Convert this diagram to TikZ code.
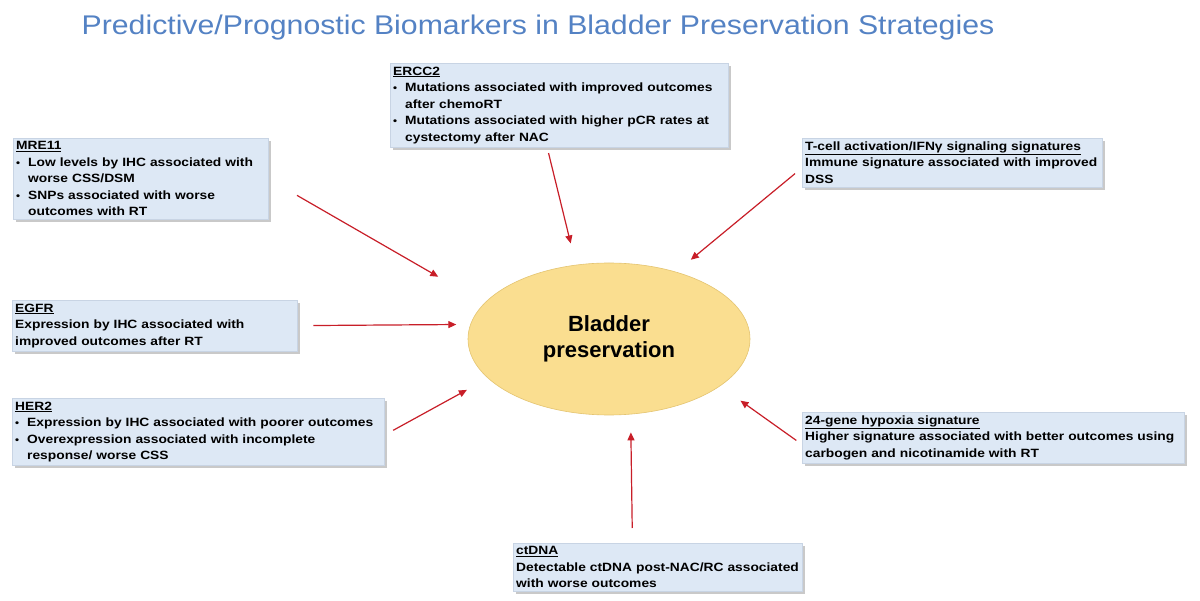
\documentclass[tikz,border=0pt]{standalone}
\usepackage{fontspec}
\setmainfont{Liberation Sans}
\newfontfamily\boxfont[FakeStretch=1.15]{Liberation Sans}
\newfontfamily\titlefont[FakeStretch=1.12]{Liberation Sans}
\usepackage{tikz}
\usetikzlibrary{arrows.meta}
\usetikzlibrary{shapes.geometric}
\usetikzlibrary{shadows}
\definecolor{titleblue}{RGB}{84,130,196}
\definecolor{boxfill}{RGB}{221,232,245}
\definecolor{boxline}{RGB}{200,212,228}
\definecolor{ellfill}{RGB}{250,222,144}
\definecolor{elldraw}{RGB}{228,196,112}
\definecolor{arrowred}{RGB}{200,30,40}
\newcommand{\bul}{\makebox[12pt][l]{\fontsize{10}{10}\selectfont\textbullet}}
\newcommand{\indline}{\hspace*{12pt}}
\tikzset{
    biobox/.style={fill=boxfill, draw=boxline, line width=0.4pt, anchor=north west,
        align=left, inner xsep=3pt, inner ysep=3.5pt,
        drop shadow={shadow xshift=2.5pt, shadow yshift=-2.5pt, fill=gray!70, opacity=.6},
        font=\boxfont\bfseries\fontsize{12}{16.5}\selectfont},
    redarrow/.style={draw=arrowred, line width=1.2pt, -{Triangle[length=8pt,width=7pt]}}
}

\begin{document}
\begin{tikzpicture}[x=1pt, y=-1pt]
        \useasboundingbox[fill=white] (0,0) rectangle (1200,601);

        % title
        \node[text=titleblue, font=\titlefont\fontsize{27}{30}\selectfont] (title) at (538,28)
            {Predictive/Prognostic Biomarkers in Bladder Preservation Strategies};

        % centre
        \node[ellipse, fill=ellfill, draw=elldraw, line width=0.6pt, minimum width=282pt,
            minimum height=152pt, inner sep=0pt, align=center,
            font=\bfseries\fontsize{22}{26}\selectfont] (bp) at (609,339) {Bladder\\preservation};

        % biomarkers
        \node[biobox, text width=249pt] (mre) at (13,138)
            {\underline{MRE11}\\ \bul Low levels by IHC associated with\\ \indline worse CSS/DSM\\
             \bul SNPs associated with worse\\ \indline outcomes with RT};
        \node[biobox, text width=332pt] (ercc) at (390,63)
            {\underline{ERCC2}\\ \bul Mutations associated with improved outcomes\\ \indline after chemoRT\\
             \bul Mutations associated with higher pCR rates at\\ \indline cystectomy after NAC};
        \node[biobox, text width=294pt] (tcell) at (802,138)
            {\underline{T-cell activation/IFNγ signaling signatures}\\ Immune signature associated with improved\\ DSS};
        \node[biobox, text width=279pt] (egfr) at (12,300)
            {\underline{EGFR}\\ Expression by IHC associated with\\ improved outcomes after RT};
        \node[biobox, text width=366pt] (her2) at (12,398)
            {\underline{HER2}\\ \bul Expression by IHC associated with poorer outcomes\\
             \bul Overexpression associated with incomplete\\ \indline response/ worse CSS};
        \node[biobox, text width=376pt] (gene) at (802,412)
            {\underline{24-gene hypoxia signature}\\ Higher signature associated with better outcomes using\\
             carbogen and nicotinamide with RT};
        \node[biobox, text width=283pt] (ctdna) at (513,543)
            {\underline{ctDNA}\\ Detectable ctDNA post-NAC/RC associated\\ with worse outcomes};

        % arrows
        \foreach \from/\to/\s/\e in {mre.east/bp.164/33/53, ercc.254/bp.114.5/6/22,
            tcell.182/bp.45/9/19, egfr.east/bp.174/16/14, her2.-1/bp.198/10/24,
            gene.182/bp.-23/7/25, ctdna.136.6/bp.-74.4/15/18}
        {
            \draw[redarrow, shorten <=\s pt, shorten >=\e pt] (\from) -- (\to);
        }
    \end{tikzpicture}
\end{document}
